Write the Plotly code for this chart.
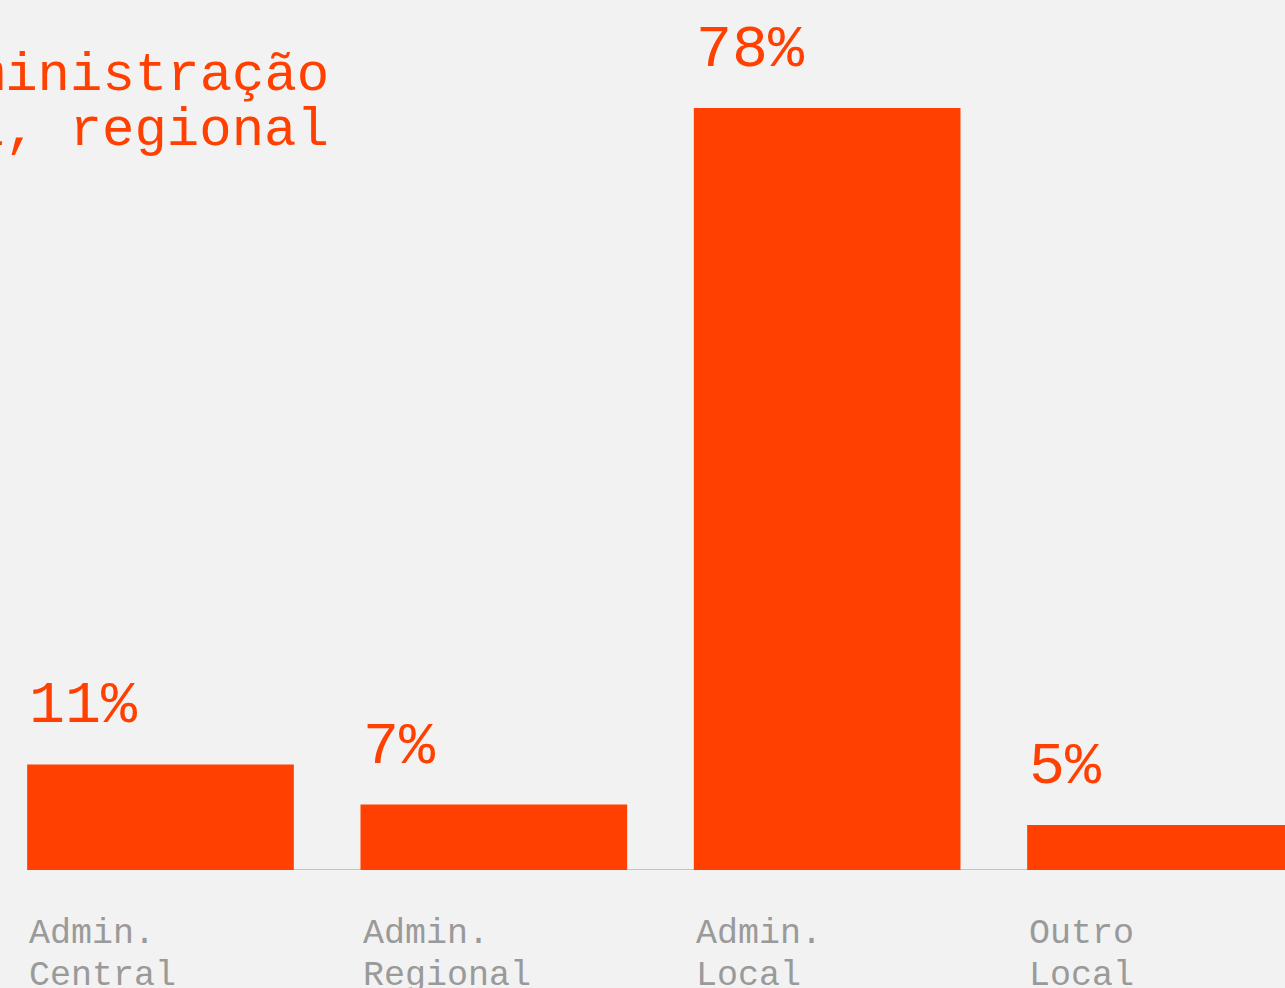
import plotly.graph_objects as go

# Data
categories = ["Admin.<br>Central", "Admin.<br>Regional", "Admin.<br>Local", "Outro<br>Local"]
values = [10.8, 6.7, 78.0, 4.6]
value_labels = ["11%", "7%", "78%", "5%"]
title_lines = ["Administração", "central, regional"]

W, H = 1285, 988
PLOT_BOTTOM = 870  # px of baseline
ORANGE = "#ff4000"
GREY = "#9a9a9a"
FONT = "Liberation Mono"

x_pos = list(range(len(categories)))

fig = go.Figure()
fig.add_trace(go.Bar(
    x=x_pos, y=values, width=0.8,
    marker=dict(color=ORANGE, line=dict(width=0)),
    hoverinfo="skip", showlegend=False,
))

def paper_y(px):
    return (PLOT_BOTTOM - px) / PLOT_BOTTOM

annotations = []
# value labels
for xi, v, lab in zip(x_pos, values, value_labels):
    annotations.append(dict(
        x=xi - 0.4, y=v, xref="x", yref="y", text=lab, showarrow=False,
        xanchor="left", yanchor="bottom", yshift=22, align="left",
        font=dict(family=FONT, size=60, color=ORANGE),
    ))
# category labels (two lines each)
for xi, cat in zip(x_pos, categories):
    lines = cat.split("<br>")
    tops = [912, 954]
    for ln, top in zip(lines, tops):
        annotations.append(dict(
            x=xi - 0.4, y=paper_y(top), xref="x", yref="paper", text=ln,
            showarrow=False, xanchor="left", yanchor="top", align="left",
            font=dict(family=FONT, size=35, color=GREY),
        ))
# title (clipped at the left edge)
for ln, top in zip(title_lines, [43, 98]):
    annotations.append(dict(
        x=331 / W, y=paper_y(top), xref="paper", yref="paper", text=ln,
        showarrow=False, xanchor="right", yanchor="top", align="right",
        font=dict(family=FONT, size=54, color=ORANGE),
    ))

fig.update_layout(
    width=W, height=H,
    margin=dict(l=0, r=0, t=0, b=H - PLOT_BOTTOM, pad=0),
    paper_bgcolor="#f2f2f2", plot_bgcolor="#f2f2f2",
    xaxis=dict(range=[-160.5 / 333.33, (W - 160.5) / 333.33], showticklabels=False,
               showgrid=False, zeroline=False, showline=False, ticks=""),
    yaxis=dict(range=[0, 89.05], showticklabels=False, showgrid=False,
               zeroline=False, showline=False, ticks=""),
    annotations=annotations,
    shapes=[dict(type="line", xref="x", yref="y", x0=-0.4, x1=4, y0=0, y1=0,
                 line=dict(color="#c4c4c4", width=2), layer="below")],
    bargap=0.2,
)

fig.write_html(
    "out.html",
    config={"displayModeBar": False},
    post_script="document.body.style.margin='0';document.body.style.background='#f2f2f2';",
)
